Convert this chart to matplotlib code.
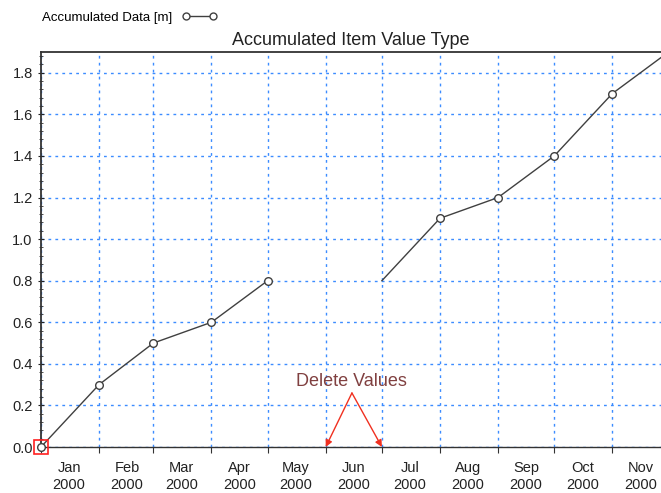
import matplotlib
matplotlib.use("Agg")
import matplotlib.pyplot as plt
import matplotlib.dates as mdates
from matplotlib.lines import Line2D
import datetime as dt

plt.rcParams['font.family'] = ['Liberation Sans', 'DejaVu Sans']

# Data
seg1_dates = ["2000-01-01", "2000-02-01", "2000-03-01", "2000-04-01", "2000-05-01"]
seg1_values = [0.0, 0.3, 0.5, 0.6, 0.8]
seg2_dates = ["2000-07-01", "2000-08-01", "2000-09-01", "2000-10-01", "2000-11-01", "2000-12-01"]
seg2_values = [0.8, 1.1, 1.2, 1.4, 1.7, 1.9]
deleted_dates = ["2000-06-01", "2000-07-01"]
title = "Accumulated Item Value Type"
legend_label = "Accumulated Data [m]"
annotation_text = "Delete Values"

def d(s):
    return dt.datetime.strptime(s, "%Y-%m-%d")

x1 = [d(s) for s in seg1_dates]
x2 = [d(s) for s in seg2_dates]
xd = [d(s) for s in deleted_dates]

fig = plt.figure(figsize=(6.61, 4.93), dpi=100)
ax = fig.add_axes([0.062, 0.0933, 0.938, 0.8012])

line_col = "#404040"
grid_col = "#3c8cff"

ax.plot(x1, seg1_values, color=line_col, lw=1.0, marker='o', ms=5.5,
        mfc='white', mec=line_col, mew=1.0, zorder=3, clip_on=False)
ax.plot(x2, seg2_values, color=line_col, lw=1.0, marker='o', ms=5.5,
        mfc='white', mec=line_col, mew=1.0, markevery=list(range(1, len(x2))), zorder=3)
# selected first point
ax.plot([x1[0]], [seg1_values[0]], marker='s', ms=10, mfc='none', mec='#ff2020',
        mew=1.2, zorder=4, clip_on=False, ls='none')

ax.set_xlim(d("2000-01-01"), d("2000-11-27"))
ax.set_ylim(0, 1.9)

ax.xaxis.set_major_locator(mdates.MonthLocator())
ax.xaxis.set_major_formatter(plt.NullFormatter())
ax.xaxis.set_minor_locator(mdates.MonthLocator(bymonthday=16))
ax.xaxis.set_minor_formatter(mdates.DateFormatter("%b\n%Y"))
ax.tick_params(axis='x', which='minor', length=0, labelsize=10.5, pad=10, colors='#222222')
ax.tick_params(axis='x', which='major', length=4, direction='out', color='#333333')
for lbl in ax.xaxis.get_minor_ticks():
    pass

ax.set_yticks([0.0, 0.2, 0.4, 0.6, 0.8, 1.0, 1.2, 1.4, 1.6, 1.8])
ax.yaxis.set_major_formatter(plt.FuncFormatter(lambda v, p: f"{v:.1f}"))
ax.yaxis.set_minor_locator(plt.MultipleLocator(0.04))
ax.tick_params(axis='y', which='major', length=5, direction='inout', labelsize=10.5, colors='#222222')
ax.tick_params(axis='y', which='minor', length=3, direction='inout', color='#333333')

ax.grid(True, which='major', color=grid_col, ls=(0, (2, 3)), lw=1.0)
ax.set_axisbelow(True)

for s in ['left', 'top']:
    ax.spines[s].set_color('#333333')
    ax.spines[s].set_linewidth(1.3)
ax.spines['bottom'].set_color('#333333')
ax.spines['bottom'].set_linewidth(1.0)
ax.spines['right'].set_visible(False)

ax.set_title(title, fontsize=13, color='#222222', pad=5)

fig.canvas.draw()
for t in ax.xaxis.get_minorticklabels():
    t.set_linespacing(1.25)

# Legend
handle = Line2D([], [], color=line_col, lw=1.0, marker='o', ms=5, mfc='white', mec=line_col)
fig.legend([handle], [legend_label], loc='upper left', bbox_to_anchor=(0.045, 1.0),
           frameon=False, markerfirst=False, numpoints=2, fontsize=9.5,
           handlelength=2.6, handletextpad=0.8)

# Annotation
tx = d("2000-06-15")
for xv in xd:
    ax.annotate("", xy=(xv, 0.0), xytext=(tx, 0.26),
                arrowprops=dict(arrowstyle='-|>', color='#f03020', lw=1.0,
                                mutation_scale=10, shrinkA=0, shrinkB=0))
ax.text(tx, 0.315, annotation_text, ha='center', va='center', fontsize=13, color='#804040')

fig.savefig("out.png", dpi=100)
